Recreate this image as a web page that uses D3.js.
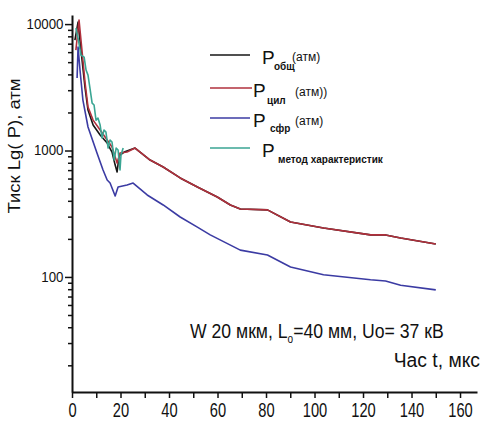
<!DOCTYPE html>
<html>
<head>
<meta charset="utf-8">
<script src="https://cdn.jsdelivr.net/npm/d3@7"></script>
<style>
body { margin: 0; background: #fff; }
svg { display: block; }
</style>
</head>
<body>
<svg id="chart" width="483" height="427"></svg>
<script>
// values (t in мкс, P in атм)
var tTotal = [1.2, 2.5, 3.7, 5.4, 6.6, 8.7, 11.6, 14.5, 16.5, 17.8, 18.6, 19.4, 21.5, 26.0, 32.2, 37.6, 44.6, 51.7, 59.9, 65.3, 69.4, 80.6, 90.1, 103.7, 123.1, 129.3, 135.5, 150];
var pTotal = [7470, 10370, 6230, 3120, 2090, 1590, 1327, 1146, 973, 767, 676, 906, 973, 1046, 841, 741, 607, 514, 429, 371, 345, 339, 272, 244, 215, 215, 203, 182];

var tCyl = [1.6, 2.9, 4.1, 5.4, 6.6, 8.7, 11.6, 14.5, 16.5, 17.8, 18.6, 19.8, 22.7, 26.0, 32.2, 37.6, 44.6, 51.7, 59.9, 65.3, 69.4, 80.6, 90.1, 103.7, 123.1, 129.3, 135.5, 150];
var pCyl = [6230, 10760, 6230, 3420, 2210, 1740, 1452, 1210, 1067, 889, 796, 955, 973, 1046, 841, 741, 607, 514, 429, 371, 345, 339, 272, 244, 215, 215, 203, 182];

var tSph = [2.1, 2.5, 3.3, 4.5, 6.6, 10.3, 12.8, 14.5, 15.7, 17.8, 19.0, 22.7, 25.2, 31.0, 37.6, 44.6, 51.7, 57.0, 69.4, 80.6, 90.1, 103.7, 123.1, 129.3, 135.5, 150];
var pSph = [3740, 6580, 4330, 2507, 1535, 955, 701, 585, 553, 437, 514, 533, 553, 445, 371, 298, 248, 215, 163, 149, 120, 104, 95, 93, 86, 79];

var tChar = [1.6, 2.5, 3.7, 5.0, 5.8, 6.6, 7.4, 8.3, 9.1, 9.9, 10.7, 11.6, 12.4, 13.2, 14.0, 14.9, 15.7, 16.5, 17.4, 18.2, 19.0, 19.8, 20.2, 21.1];
var pChar = [9300, 7740, 5690, 5480, 4330, 3950, 3120, 2370, 2290, 1740, 1805, 1590, 1256, 1452, 1400, 1046, 1210, 1167, 841, 1046, 1009, 701, 921, 1046];

var xTickValues = d3.range(0, 161, 10);
var yMajorTicks = [100, 1000, 10000];

var series = [
    { name: "total", sub: "общ", sup: "(атм)", t: tTotal, p: pTotal, color: "#161616" },
    { name: "cyl", sub: "цил", sup: "(атм))", t: tCyl, p: pCyl, color: "#b0303c" },
    { name: "sph", sub: "сфр", sup: "(атм)", t: tSph, p: pSph, color: "#3b3ba3" },
    { name: "char", sub: "метод характеристик", sup: "", t: tChar, p: pChar, color: "#3aa593" }
];

var svg = d3.select("#chart");
var sans = "'Liberation Sans', Arial, sans-serif";

var x = d3.scaleLinear().domain([0, 167]).range([72, 477]);
var y = d3.scaleLog().domain([12.3, 11800]).range([392, 15]);

// minor log ticks
var yMinor = [];
[10, 100, 1000, 10000].forEach(function (d) {
    for (var k = 2; k <= 9; k++) {
        var v = d * k;
        if (v > y.domain()[0] && v < y.domain()[1] && yMajorTicks.indexOf(v) < 0) yMinor.push(v);
    }
});

svg.append("g")
    .attr("class", "y minor")
    .attr("transform", "translate(72,0)")
    .call(d3.axisLeft(y).tickValues(yMinor).tickSize(4).tickFormat(""))
    .call(function (g) { g.select(".domain").remove(); });

var yAxis = svg.append("g")
    .attr("class", "y axis")
    .attr("transform", "translate(72,0)")
    .call(d3.axisLeft(y).tickValues(yMajorTicks).tickSize(7).tickPadding(2).tickSizeOuter(0).tickFormat(d3.format("d")));
yAxis.selectAll("text").attr("font-family", sans).attr("font-size", 14).attr("fill", "#111")
    .attr("transform", "scale(0.95,1)");

var xAxis = svg.append("g")
    .attr("class", "x axis")
    .attr("transform", "translate(0,392)")
    .call(d3.axisBottom(x).tickValues(xTickValues).tickSize(6).tickPadding(4).tickSizeOuter(0)
        .tickFormat(function (d) { return d % 20 === 0 ? d : ""; }));
xAxis.selectAll("text").attr("font-family", sans).attr("font-size", 21).attr("fill", "#111")
    .attr("transform", "scale(0.7,1)");

svg.selectAll(".axis .domain").attr("stroke", "#111").attr("stroke-width", 2);
svg.selectAll(".tick line").attr("stroke", "#111").attr("stroke-width", 1.5);

// curves
var line = d3.line()
    .x(function (d) { return x(d[0]); })
    .y(function (d) { return y(d[1]); });

svg.selectAll(".curve")
    .data(series)
    .enter().append("path")
    .attr("class", "curve")
    .attr("fill", "none")
    .attr("stroke", function (d) { return d.color; })
    .attr("stroke-width", 1.6)
    .attr("stroke-linejoin", "round")
    .attr("d", function (d) { return line(d.t.map(function (t, i) { return [t, d.p[i]]; })); });

// legend
var legendY = [55, 88, 118, 148];
var lg = svg.selectAll(".legend")
    .data(series)
    .enter().append("g")
    .attr("class", "legend")
    .attr("transform", function (d, i) { return "translate(210," + legendY[i] + ")"; });

lg.append("line")
    .attr("x1", 0).attr("x2", function (d, i) { return i == 1 ? 42 : 40; })
    .attr("stroke", function (d) { return d.color; })
    .attr("stroke-width", 1.5);

lg.append("text")
    .attr("x", function (d, i) { return (i == 1 || i == 2) ? 43 : 52; })
    .attr("y", 9)
    .attr("font-family", sans)
    .attr("font-size", 19)
    .attr("fill", "#111")
    .text("P");

lg.append("text")
    .attr("x", function (d, i) { return [64, 57, 60, 68][i]; })
    .attr("y", function (d, i) { return [15, 16, 14, 15][i]; })
    .attr("font-family", sans)
    .attr("font-weight", "bold")
    .attr("font-size", 10)
    .attr("fill", "#111")
    .text(function (d) { return d.sub; });

lg.append("text")
    .attr("x", function (d, i) { return [82, 85, 85, 0][i]; })
    .attr("y", function (d, i) { return [6, 8, 7, 0][i]; })
    .attr("font-family", sans)
    .attr("font-size", 12)
    .attr("fill", "#111")
    .text(function (d) { return d.sup; });

// annotation
var note = svg.append("text")
    .attr("transform", "translate(190,338) scale(0.84,1)")
    .attr("font-family", sans)
    .attr("font-size", 21)
    .attr("fill", "#111");
note.append("tspan").text("W 20 мкм, L");
note.append("tspan").attr("font-size", 12).attr("dy", 5).text("o");
note.append("tspan").attr("dy", -5).text("=40 мм, Uo= 37 кВ");

svg.append("text")
    .attr("transform", "translate(480,367) scale(0.92,1)")
    .attr("text-anchor", "end")
    .attr("font-family", sans)
    .attr("font-size", 21)
    .attr("fill", "#111")
    .text("Час t, мкс");

svg.append("text")
    .attr("transform", "translate(20,146) rotate(-90)")
    .attr("text-anchor", "middle")
    .attr("font-family", sans)
    .attr("font-size", 16)
    .attr("textLength", 135)
    .attr("lengthAdjust", "spacingAndGlyphs")
    .attr("fill", "#111")
    .text("Тиск Lg( P), атм");
</script>
</body>
</html>
